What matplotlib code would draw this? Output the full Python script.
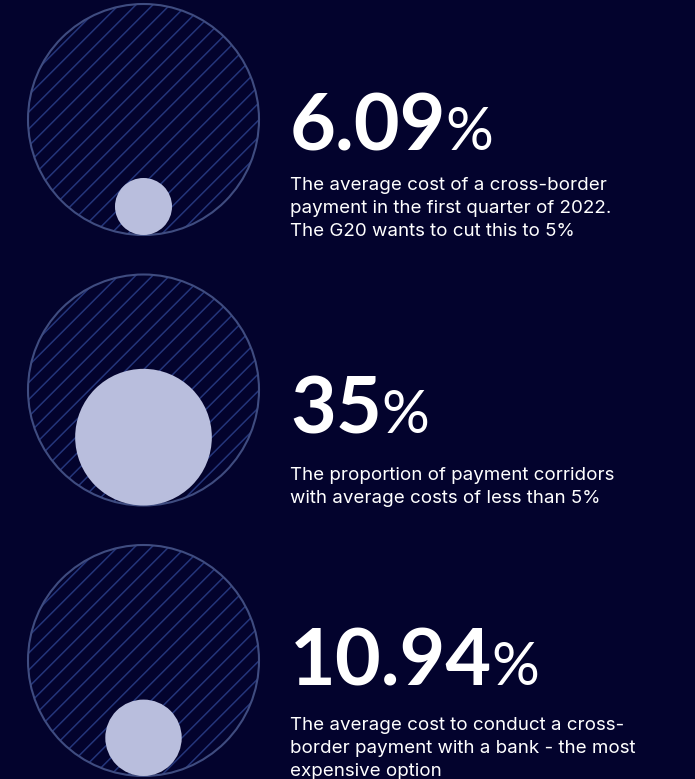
import numpy as np
import matplotlib
matplotlib.use("Agg")
import matplotlib.pyplot as plt
from matplotlib.patches import Circle

# --- data -------------------------------------------------------------
values = [6.09, 35.0, 10.94]
value_labels = ["6.09", "35", "10.94"]
descriptions = [
    ["The average cost of a cross-border",
     "payment in the first quarter of 2022.",
     "The G20 wants to cut this to 5%"],
    ["The proportion of payment corridors",
     "with average costs of less than 5%"],
    ["The average cost to conduct a cross-",
     "border payment with a bank - the most",
     "expensive option"],
]

# --- style ------------------------------------------------------------
BG = "#03032d"
RING = "#3f4c80"
HATCH = "#24357a"
DOT = "#b9bedd"
W, H = 695, 779

fig = plt.figure(figsize=(W / 100, H / 100), dpi=100, facecolor=BG)
ax = fig.add_axes([0, 0, 1, 1])
ax.set_facecolor(BG)
ax.set_xlim(0, W)
ax.set_ylim(H, 0)
ax.axis("off")

cx = 143.5
centers_y = [119.5, 390.0, 660.5]
R = 115.5
num_baselines = [150, 433, 685]
body_first_baseline = [190, 480, 730]
line_gap = 23
text_x = 290
hatch_step = 17.0

renderer = fig.canvas.get_renderer()

for v, lab, desc, cy, nb, bb in zip(values, value_labels, descriptions,
                                    centers_y, num_baselines, body_first_baseline):
    # outer ring: represents 100%
    outer = Circle((cx, cy), R, facecolor=BG, edgecolor="none", zorder=1)
    ax.add_patch(outer)
    # diagonal hatching clipped to the ring
    cs = np.arange(cx + cy - R * 1.5, cx + cy + R * 1.5, hatch_step)
    for c in cs:
        xs = np.array([cx - R - 10, cx + R + 10])
        ln, = ax.plot(xs, c - xs, color=HATCH, lw=1.1, zorder=2,
                      solid_capstyle="butt")
        ln.set_clip_path(outer)
    ax.add_patch(Circle((cx, cy), R, facecolor="none", edgecolor=RING,
                        lw=1.5, zorder=3))

    # inner disc: area proportional to the share
    r = R * np.sqrt(v / 100.0)
    ax.add_patch(Circle((cx, cy + R - r), r, facecolor=DOT,
                        edgecolor="none", zorder=4))

    # headline figure
    t = ax.text(text_x, nb, lab, color="white", fontsize=57,
                family="Lato", fontweight="bold", va="baseline", ha="left")
    bbox = t.get_window_extent(renderer)
    x_end = ax.transData.inverted().transform((bbox.x1, bbox.y0))[0]
    ax.text(x_end - 1, nb, "%", color="white", fontsize=43,
            family="Lato", fontweight="normal", va="baseline", ha="left")

    # description lines
    for i, line in enumerate(desc):
        ax.text(text_x, bb + i * line_gap, line, color="white", fontsize=13.5,
                family="Inter", va="baseline", ha="left")

fig.savefig("out.png", dpi=100, facecolor=BG)
